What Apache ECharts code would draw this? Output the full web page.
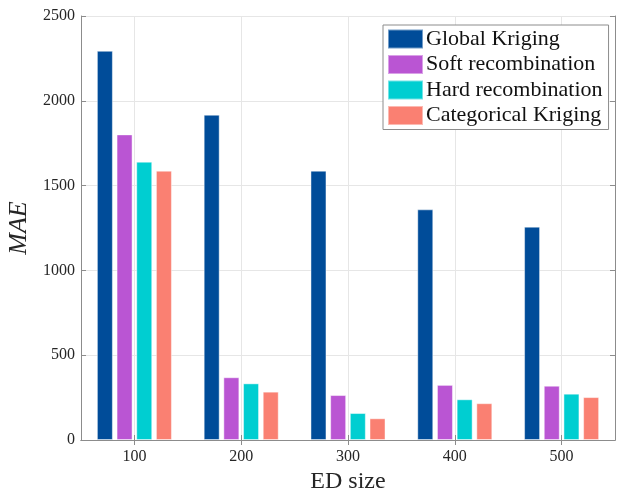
<!DOCTYPE html>
<html>
<head>
<meta charset="utf-8">
<script src="https://cdn.jsdelivr.net/npm/echarts@6/dist/echarts.min.js"></script>
<style>html,body{margin:0;padding:0;background:#fff;}#c{width:620px;height:488px;}</style>
</head>
<body>
<div id="c"></div>
<script>
const categories = ['100', '200', '300', '400', '500'];
const seriesNames = ['Global Kriging', 'Soft recombination', 'Hard recombination', 'Categorical Kriging'];
const globalKriging = [2295, 1918, 1588, 1360, 1258];
const softRecombination = [1802, 370, 265, 325, 320];
const hardRecombination = [1641, 334, 159, 240, 273];
const categoricalKriging = [1588, 285, 128, 217, 253];
const yMin = 0, yMax = 2500, yStep = 500;

const colors = ['#004C99', '#BA55D3', '#00CED1', '#FA8072'];
const font = 'Liberation Serif';
const axisColor = '#8c8c8c';
const gridColor = '#e6e6e6';
const textColor = '#262626';

// helper axis: boundaries and centers, so grid lines sit at category centers
const helperCats = [''];
categories.forEach(c => { helperCats.push(c); helperCats.push(''); });
const atCenter = (i, v) => v !== '';

const dataSets = [globalKriging, softRecombination, hardRecombination, categoricalKriging];

const chart = echarts.init(document.getElementById('c'), null, {renderer: 'canvas'});
chart.setOption({
  animation: false,
  backgroundColor: '#fff',
  grid: {left: 81, right: 5, top: 16, bottom: 48, containLabel: false, outerBoundsMode: 'none'},
  legend: {
    orient: 'vertical',
    left: 383, top: 25,
    data: seriesNames,
    icon: 'rect',
    itemWidth: 35, itemHeight: 19,
    itemGap: 3.5,
    padding: [3, 6, 3, 4],
    backgroundColor: '#fff',
    borderColor: '#8c8c8c', borderWidth: 1, borderRadius: 0,
    textStyle: {fontFamily: font, fontSize: 22, color: '#111', padding: [0, 0, 0, -2]}
  },
  xAxis: [{
    type: 'category', data: categories, position: 'bottom', boundaryGap: true,
    axisLine: {show: true, lineStyle: {color: axisColor}},
    axisTick: {show: true, inside: true, alignWithLabel: true, length: 5, lineStyle: {color: axisColor}},
    axisLabel: {fontFamily: font, fontSize: 16, color: textColor, margin: 9},
    splitLine: {show: false},
    name: 'ED size', nameLocation: 'middle', nameGap: 23,
    nameTextStyle: {fontFamily: font, fontSize: 24, color: textColor}
  }, {
    type: 'category', data: helperCats, position: 'top', boundaryGap: false,
    axisLine: {show: true, lineStyle: {color: axisColor}},
    axisTick: {show: true, inside: true, length: 5, interval: atCenter, lineStyle: {color: axisColor}},
    axisLabel: {show: false},
    splitLine: {show: true, interval: atCenter, lineStyle: {color: gridColor}}
  }],
  yAxis: [{
    type: 'value', min: yMin, max: yMax, interval: yStep, position: 'left',
    axisLine: {show: true, lineStyle: {color: axisColor}},
    axisTick: {show: true, inside: true, length: 5, lineStyle: {color: axisColor}},
    axisLabel: {fontFamily: font, fontSize: 16, color: textColor, margin: 6, formatter: v => String(v)},
    splitLine: {show: true, lineStyle: {color: gridColor}},
    name: 'MAE', nameLocation: 'middle', nameGap: 43,
    nameTextStyle: {fontFamily: font, fontSize: 26, fontStyle: 'italic', color: textColor}
  }, {
    type: 'value', min: yMin, max: yMax, interval: yStep, position: 'right',
    axisLine: {show: true, lineStyle: {color: axisColor}},
    axisTick: {show: true, inside: true, length: 5, lineStyle: {color: axisColor}},
    axisLabel: {show: false},
    splitLine: {show: false}
  }],
  series: dataSets.map((d, i) => ({
    name: seriesNames[i], type: 'bar', xAxisIndex: 0, yAxisIndex: 0,
    data: d, barWidth: 16, barGap: '23%',
    itemStyle: {color: colors[i], borderColor: 'rgba(255,255,255,0.45)', borderWidth: 1}
  }))
});
</script>
</body>
</html>
